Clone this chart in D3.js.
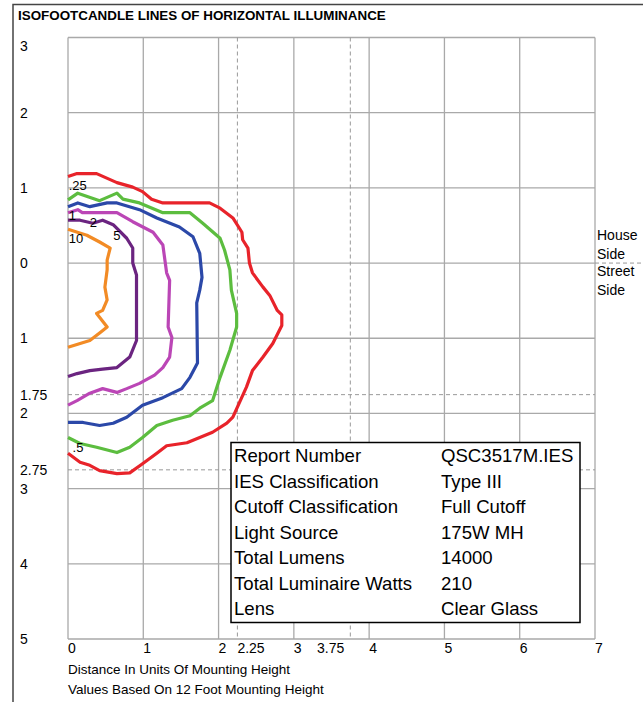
<!DOCTYPE html>
<html>
<head>
<meta charset="utf-8">
<script src="https://cdn.jsdelivr.net/npm/d3@7"></script>
<style>
  body { margin: 0; background: #fff; }
  svg { display: block; font-family: "Liberation Sans", Arial, sans-serif; }
</style>
</head>
<body>
<div id="grafico"></div>
<script>
// chart size
var width = 643,
    height = 702

// axis ticks (y: negative = house side, positive = street side)
var xTicks = [0, 1, 2, 3, 4, 5, 6, 7]
var xDashed = [2.25, 3.75]
var yTicks = [-3, -2, -1, 0, 1, 2, 3, 4, 5]
var yDashed = [1.75, 2.75]

// isofootcandle levels and their lines
var levels = [".25", ".5", "1", "2", "5", "10"]
var colors = ["#e8232a", "#5cbd3f", "#2b48a8", "#bb46b6", "#6b2480", "#f28b25"]

var line025 = [[0,-1.15],[0.12,-1.19],[0.38,-1.19],[0.65,-1.07],[0.86,-1.01],[0.99,-0.95],[1.11,-0.85],[1.26,-0.8],[1.88,-0.8],[2.02,-0.73],[2.19,-0.6],[2.31,-0.41],[2.32,-0.31],[2.39,-0.2],[2.41,0],[2.45,0.13],[2.59,0.32],[2.68,0.43],[2.78,0.63],[2.84,0.69],[2.84,0.83],[2.72,1.07],[2.59,1.25],[2.45,1.43],[2.37,1.65],[2.19,2.05],[2.11,2.13],[1.92,2.25],[1.75,2.32],[1.58,2.39],[1.31,2.43],[1.18,2.53],[0.99,2.67],[0.82,2.79],[0.65,2.8],[0.42,2.76],[0.29,2.69],[0.16,2.65],[0,2.53]]
var line05 = [[0,-0.84],[0.13,-0.93],[0.42,-0.83],[0.65,-0.93],[0.73,-0.85],[0.95,-0.8],[1.26,-0.67],[1.62,-0.67],[1.79,-0.53],[2.02,-0.33],[2.08,-0.17],[2.15,0.09],[2.17,0.36],[2.24,0.67],[2.24,0.85],[2.15,1.16],[2.02,1.52],[1.92,1.83],[1.75,1.93],[1.62,2.03],[1.39,2.09],[1.18,2.16],[0.99,2.32],[0.82,2.45],[0.65,2.52],[0.38,2.45],[0.16,2.4],[0,2.32]]
var line1 = [[0,-0.75],[0.13,-0.8],[0.29,-0.75],[0.52,-0.8],[0.65,-0.8],[0.95,-0.71],[1.18,-0.6],[1.48,-0.48],[1.66,-0.35],[1.75,-0.13],[1.78,0.19],[1.75,0.36],[1.71,0.53],[1.72,1.33],[1.62,1.52],[1.51,1.67],[1.26,1.79],[0.99,1.89],[0.78,2.05],[0.6,2.13],[0.42,2.16],[0.2,2.12],[0,2.12]]
var line2 = [[0,-0.67],[0.13,-0.71],[0.19,-0.67],[0.65,-0.67],[0.86,-0.55],[1.13,-0.41],[1.26,-0.24],[1.31,0.13],[1.35,0.23],[1.33,0.85],[1.38,0.99],[1.35,1.25],[1.26,1.39],[1.15,1.49],[0.95,1.6],[0.78,1.67],[0.65,1.72],[0.46,1.67],[0.29,1.73],[0.12,1.83],[0,1.89]]
var line5 = [[0,-0.57],[0.16,-0.57],[0.33,-0.53],[0.46,-0.57],[0.6,-0.51],[0.78,-0.33],[0.86,-0.2],[0.86,0],[0.91,0.16],[0.91,1.03],[0.82,1.25],[0.65,1.39],[0.46,1.41],[0.29,1.43],[0.12,1.47],[0,1.51]]
var line10 = [[0,-0.45],[0.25,-0.37],[0.42,-0.28],[0.56,-0.2],[0.52,-0.04],[0.52,0.09],[0.49,0.32],[0.52,0.49],[0.46,0.63],[0.38,0.67],[0.45,0.76],[0.52,0.85],[0.42,0.93],[0.29,1.03],[0,1.12]]
var lines = [line025, line05, line1, line2, line5, line10]

// where each level's number sits (data units)
var labelAt = [[0.01,-1.04],[0.06,2.44],[0.01,-0.64],[0.29,-0.55],[0.6,-0.37],[0.01,-0.33]]

// report table
var infoLabels = ["Report Number", "IES Classification", "Cutoff Classification", "Light Source", "Total Lumens", "Total Luminaire Watts", "Lens"]
var infoValues = ["QSC3517M.IES", "Type III", "Full Cutoff", "175W MH", "14000", "210", "Clear Glass"]

var svg = d3.select("#grafico")
  .append("svg")
    .attr("width", width)
    .attr("height", height)

var x = d3.scaleLinear().domain([0, 7]).range([68, 595])
var y = d3.scaleLinear().domain([-3, 5]).range([37.5, 639])

// outer frame
svg.append("path")
  .attr("d", "M13,702 V4.5 H643")
  .attr("fill", "none")
  .attr("stroke", "#444")
  .attr("stroke-width", 1.5)

svg.append("text")
  .attr("x", 18).attr("y", 20)
  .style("font-size", "13.4px").style("font-weight", "bold")
  .text("ISOFOOTCANDLE LINES OF HORIZONTAL ILLUMINANCE")

// grid
var grid = svg.append("g")
grid.selectAll(".vx")
  .data(xTicks)
  .enter().append("line")
    .attr("x1", d => x(d)).attr("x2", d => x(d))
    .attr("y1", y(-3)).attr("y2", y(5))
    .attr("stroke", "#a9a9a9").attr("stroke-width", 1.3)
grid.selectAll(".hy")
  .data(yTicks)
  .enter().append("line")
    .attr("x1", x(0)).attr("x2", x(7))
    .attr("y1", d => y(d)).attr("y2", d => y(d))
    .attr("stroke", "#a9a9a9").attr("stroke-width", 1.3)
grid.selectAll(".dx")
  .data(xDashed)
  .enter().append("line")
    .attr("x1", d => x(d)).attr("x2", d => x(d))
    .attr("y1", y(-3)).attr("y2", y(5))
    .attr("stroke", "#999").attr("stroke-width", 1)
    .attr("stroke-dasharray", "4,3")
grid.selectAll(".dy")
  .data(yDashed)
  .enter().append("line")
    .attr("x1", x(0)).attr("x2", x(7))
    .attr("y1", d => y(d)).attr("y2", d => y(d))
    .attr("stroke", "#999").attr("stroke-width", 1)
    .attr("stroke-dasharray", "4,3")
// house / street divider runs out past the grid
grid.append("line")
  .attr("x1", x(7)).attr("x2", width)
  .attr("y1", y(0)).attr("y2", y(0))
  .attr("stroke", "#999").attr("stroke-width", 1)
  .attr("stroke-dasharray", "4,3")

// y labels (distance either side of the pole)
var yLabels = yTicks.concat(yDashed)
svg.selectAll(".ylab")
  .data(yLabels)
  .enter().append("text")
    .attr("x", 20)
    .attr("y", d => Math.max(y(d), y(-3) + 8) + 5)
    .style("font-size", "14px")
    .text(d => Math.abs(d))

// x labels
svg.selectAll(".xlab")
  .data(xTicks.concat(xDashed))
  .enter().append("text")
    .attr("x", d => d == 3.75 ? x(d) - 6 : x(d))
    .attr("y", 653)
    .attr("text-anchor", d => d == 3.75 ? "end" : "start")
    .style("font-size", "14px")
    .text(d => d)

svg.append("text").attr("x", 68).attr("y", 674).style("font-size", "13.5px")
  .text("Distance In Units Of Mounting Height")
svg.append("text").attr("x", 68).attr("y", 694).style("font-size", "13.5px")
  .text("Values Based On 12 Foot Mounting Height")

// side labels
svg.selectAll(".side")
  .data(["House", "Side", "Street", "Side"])
  .enter().append("text")
    .attr("x", 597)
    .attr("y", (d, i) => [240, 259, 276, 295][i])
    .style("font-size", "14px")
    .text(d => d)

// isofootcandle lines
var path = d3.line().x(d => x(d[0])).y(d => y(d[1]))
svg.selectAll(".iso")
  .data(lines)
  .enter().append("path")
    .attr("d", path)
    .attr("fill", "none")
    .attr("stroke", (d, i) => colors[i])
    .attr("stroke-width", 3.2)
    .attr("stroke-linejoin", "round")

svg.selectAll(".lvl")
  .data(levels)
  .enter().append("text")
    .attr("x", (d, i) => x(labelAt[i][0]))
    .attr("y", (d, i) => y(labelAt[i][1]) + 5)
    .style("font-size", "13px")
    .text(d => d)

// report table
var box = svg.append("g")
box.append("rect")
  .attr("x", 231).attr("y", 442.5)
  .attr("width", 349).attr("height", 180)
  .attr("fill", "#fff").attr("stroke", "#000").attr("stroke-width", 1.5)
box.selectAll(".il")
  .data(infoLabels)
  .enter().append("text")
    .attr("x", 234)
    .attr("y", (d, i) => 462 + i * 25.5)
    .style("font-size", "18.6px")
    .text(d => d)
box.selectAll(".iv")
  .data(infoValues)
  .enter().append("text")
    .attr("x", 441)
    .attr("y", (d, i) => 462 + i * 25.5)
    .style("font-size", "18.6px")
    .text(d => d)
</script>
</body>
</html>
